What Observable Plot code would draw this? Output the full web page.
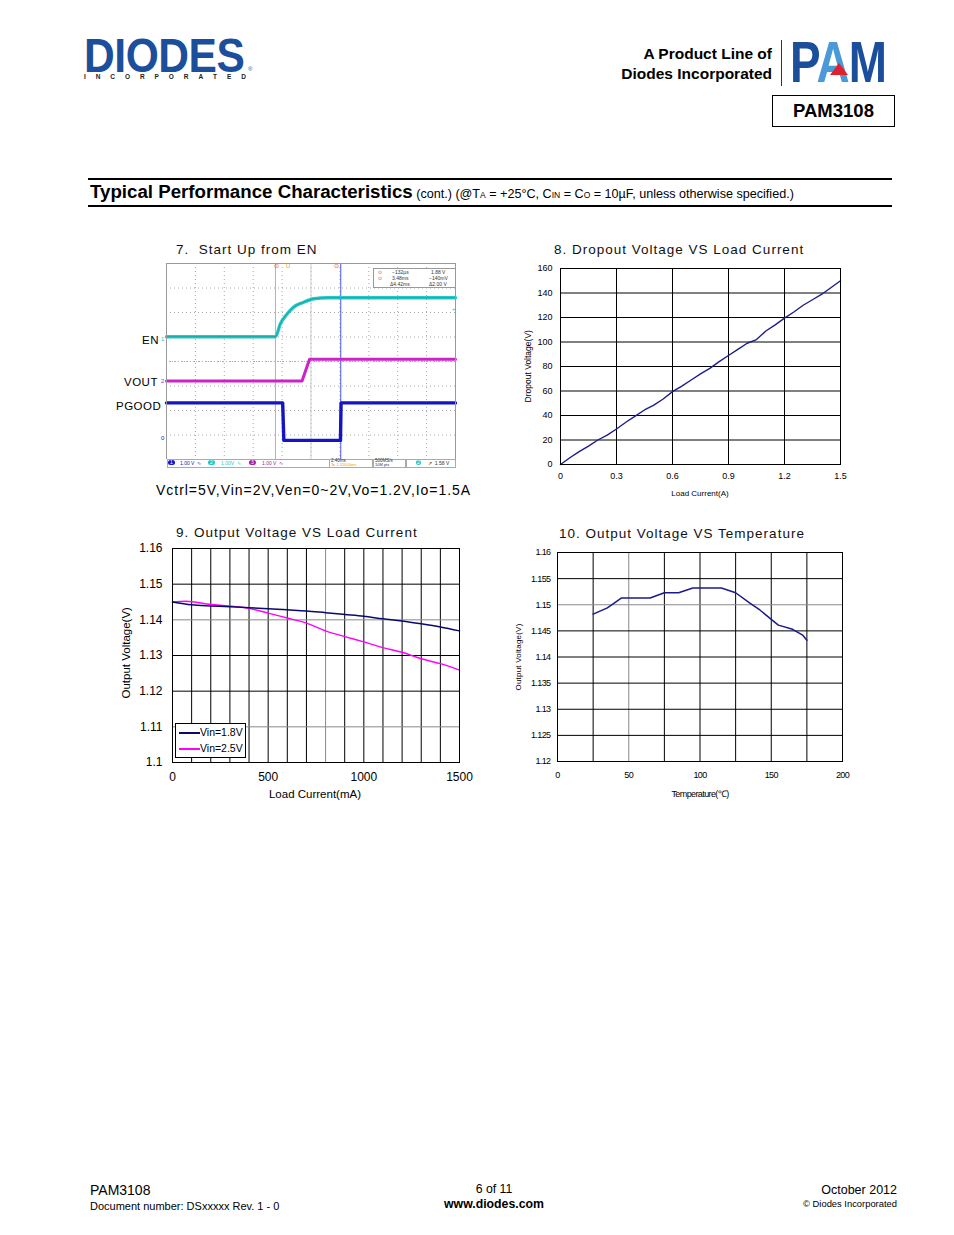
<!DOCTYPE html>
<html><head><meta charset="utf-8">
<script src="https://cdn.jsdelivr.net/npm/d3@7"></script>
<script src="https://cdn.jsdelivr.net/npm/@observablehq/plot@0.6"></script>
<style>
body{margin:0;background:#fff;}
#page{position:relative;width:954px;height:1235px;overflow:hidden;font-family:"Liberation Sans",Arial,sans-serif;color:#000;background:#fff;}
.abs{position:absolute;white-space:nowrap;line-height:1;}
.b{font-weight:bold;}
.ttl{font-size:13.5px;letter-spacing:1px;color:#111;}
.plot{position:absolute;}
.tiny{font-size:5px;line-height:1;position:absolute;white-space:nowrap;}
.lg{z-index:5;}
</style></head><body><div id="page">

<!-- header: DIODES logo -->
<div class="abs b" style="left:84px;top:38.6px;height:34px;font-size:48px;line-height:34px;color:#1b4f9c;transform:scaleX(0.886);transform-origin:0 0;letter-spacing:-0.5px;">DIODES</div>
<div class="abs b" style="left:84px;top:74px;width:162px;display:flex;justify-content:space-between;font-size:6.5px;color:#222;"><span>I</span><span>N</span><span>C</span><span>O</span><span>R</span><span>P</span><span>O</span><span>R</span><span>A</span><span>T</span><span>E</span><span>D</span></div>
<div class="abs" style="left:248px;top:66px;font-size:6px;color:#1b4f9c;">®</div>

<div class="abs b" style="right:182px;top:46px;font-size:15.5px;text-align:right;">A Product Line of</div>
<div class="abs b" style="right:182px;top:66px;font-size:15.5px;text-align:right;">Diodes Incorporated</div>
<div class="abs" style="left:781px;top:40px;width:1px;height:46px;background:#333;"></div>
<div class="abs b" style="left:790px;top:34px;font-size:57px;line-height:57px;transform:scaleX(0.805);transform-origin:0 0;letter-spacing:-1px;"><span style="color:#1b4f9c">P</span><span style="color:#4a9ad8">A</span><span style="color:#1b4f9c">M</span></div>
<div class="abs" style="left:830px;top:63px;width:0;height:0;border-left:9px solid transparent;border-right:9px solid transparent;border-bottom:12px solid #e0202a;"></div>
<div class="abs b" style="left:772px;top:95px;width:121px;height:30px;border:1.5px solid #000;font-size:18.5px;line-height:30px;text-align:center;">PAM3108</div>

<!-- section header -->
<div class="abs" style="left:88px;top:178px;width:804px;height:2px;background:#000;"></div>
<div class="abs" style="left:88px;top:205px;width:804px;height:2px;background:#000;"></div>
<div class="abs" style="left:90px;top:183px;"><span class="b" style="font-size:18.7px;">Typical Performance Characteristics</span><span style="font-size:12.6px;"> (cont.) (@T<span style="font-size:8.5px">A</span> = +25°C, C<span style="font-size:8.5px">IN</span> = C<span style="font-size:8.5px">O</span> = 10µF, unless otherwise specified.)</span></div>

<!-- chart titles & labels -->
<div class="abs ttl" style="left:176px;top:243px;">7.&nbsp; Start Up from EN</div>
<div class="abs ttl" style="left:554px;top:243px;">8. Dropout Voltage VS Load Current</div>
<div class="abs ttl" style="left:176px;top:526px;">9. Output Voltage VS Load Current</div>
<div class="abs ttl" style="left:559px;top:527px;">10. Output Voltage VS Temperature</div>

<!-- scope labels -->
<div class="abs" style="left:142px;top:335px;font-size:11.5px;letter-spacing:0.5px;">EN</div>
<div class="abs" style="left:124px;top:377px;font-size:11.5px;letter-spacing:0.5px;">VOUT</div>
<div class="abs" style="left:116px;top:401px;font-size:11.5px;letter-spacing:0.5px;">PGOOD</div>
<div class="abs" style="left:156px;top:483px;font-size:14px;letter-spacing:0.97px;">Vctrl=5V,Vin=2V,Ven=0~2V,Vo=1.2V,Io=1.5A</div>

<!-- chart 8 labels -->
<div class="abs" style="left:640px;top:490px;width:120px;text-align:center;font-size:8px;">Load Current(A)</div>
<div class="abs" style="left:468px;top:362px;width:120px;text-align:center;font-size:8.5px;transform:rotate(-90deg);">Dropout Voltage(V)</div>

<!-- chart 9 labels -->
<div class="abs" style="left:235px;top:789px;width:160px;text-align:center;font-size:11.5px;">Load Current(mA)</div>
<div class="abs" style="left:47px;top:647px;width:160px;text-align:center;font-size:11.5px;transform:rotate(-90deg);">Output Voltage(V)</div>

<!-- chart 10 labels -->
<div class="abs" style="left:640px;top:790px;width:120px;text-align:center;font-size:9px;letter-spacing:-0.6px;">Temperature(℃)</div>
<div class="abs" style="left:459px;top:653px;width:120px;text-align:center;font-size:8px;transform:rotate(-90deg);letter-spacing:0.2px;">Output Voltage(V)</div>

<!-- footer -->
<div class="abs" style="left:90px;top:1183px;font-size:14px;">PAM3108</div>
<div class="abs" style="left:90px;top:1201px;font-size:11px;">Document number: DSxxxxx Rev. 1 - 0</div>
<div class="abs" style="left:394px;top:1183px;width:200px;text-align:center;font-size:12.3px;">6 of 11</div>
<div class="abs b" style="left:394px;top:1198px;width:200px;text-align:center;font-size:12.3px;">www.diodes.com</div>
<div class="abs" style="right:57px;top:1184px;font-size:12.5px;">October 2012</div>
<div class="abs" style="right:57px;top:1199px;font-size:9.4px;">© Diodes Incorporated</div>

<div id="c7" class="plot" style="left:160px;top:258px;"></div>
<div id="c8" class="plot" style="left:505px;top:258px;"></div>
<div id="c9" class="plot" style="left:110px;top:540px;"></div>
<div id="c10" class="plot" style="left:505px;top:545px;"></div>

<!-- chart 9 legend (drawn above the plot) -->
<div class="abs lg" style="left:175px;top:723px;width:69px;height:33px;border:1px solid #000;background:#fff;"></div>
<div class="abs lg" style="left:179px;top:732px;width:21px;height:2px;background:#0a0a6e;"></div>
<div class="abs lg" style="left:200px;top:727px;font-size:10.5px;">Vin=1.8V</div>
<div class="abs lg" style="left:179px;top:748px;width:21px;height:2px;background:#ff00ff;"></div>
<div class="abs lg" style="left:200px;top:743px;font-size:10.5px;">Vin=2.5V</div>

<!-- scope overlays -->
<div class="abs" style="left:373px;top:268px;width:81px;height:18px;border:1px solid #999;background:#fff;"></div>
<div class="tiny" style="left:378px;top:270px;color:#e05020;">⊙</div>
<div class="tiny" style="left:378px;top:276px;color:#e05020;">⊙</div>
<div class="tiny" style="left:392px;top:270px;color:#333;">−132µs</div>
<div class="tiny" style="left:392px;top:276px;color:#333;">3.48ms</div>
<div class="tiny" style="left:390px;top:282px;color:#333;">Δ4.42ms</div>
<div class="tiny" style="left:431px;top:270px;color:#333;">1.88 V</div>
<div class="tiny" style="left:429px;top:276px;color:#333;">−140mV</div>
<div class="tiny" style="left:429px;top:282px;color:#333;">Δ2.00 V</div>
<div class="tiny" style="left:274px;top:263px;color:#e05020;font-size:6px;">⊙</div>
<div class="tiny" style="left:286px;top:263px;color:#f0a000;font-size:6px;">U</div>
<div class="tiny" style="left:334px;top:263px;color:#e05020;font-size:6px;">⊙</div>
<div class="tiny" style="left:161px;top:336px;color:#22c7c7;font-size:6px;">1</div>
<div class="tiny" style="left:161px;top:378px;color:#c020c0;font-size:6px;">2</div>
<div class="tiny" style="left:161px;top:435px;color:#1515c8;font-size:6px;">0</div>
<div class="tiny" style="left:452px;top:306px;color:#22c7c7;font-size:6px;">+</div>
<div class="abs" style="left:166px;top:459px;width:289px;height:8px;background:#fff;"></div>
<div class="abs" style="left:167px;top:459px;width:161px;height:7px;border:1px solid #aaa;"></div>
<div class="tiny" style="left:168px;top:460px;color:#fff;background:#1515c8;border-radius:3px;padding:0 2px;">1</div>
<div class="tiny" style="left:180px;top:461px;color:#1515c8;">1.00 V &nbsp;∿</div>
<div class="tiny" style="left:208px;top:460px;color:#fff;background:#22c7c7;border-radius:3px;padding:0 2px;">2</div>
<div class="tiny" style="left:221px;top:461px;color:#22c7c7;">1.00V &nbsp;∿</div>
<div class="tiny" style="left:249px;top:460px;color:#fff;background:#a020a0;border-radius:3px;padding:0 2px;">3</div>
<div class="tiny" style="left:262px;top:461px;color:#a020a0;">1.00 V &nbsp;∿</div>
<div class="abs" style="left:329px;top:459px;width:42px;height:7px;border:1px solid #aaa;"></div>
<div class="tiny" style="left:331px;top:459px;color:#333;font-size:4.5px;">2.40ms</div>
<div class="tiny" style="left:331px;top:463px;color:#f0a000;font-size:4px;">T▸ 1.52000ms</div>
<div class="abs" style="left:373px;top:459px;width:31px;height:7px;border:1px solid #aaa;"></div>
<div class="tiny" style="left:375px;top:459px;color:#333;font-size:4.5px;">500MS/s</div>
<div class="tiny" style="left:375px;top:463px;color:#333;font-size:4px;">10M pts</div>
<div class="abs" style="left:406px;top:459px;width:48px;height:7px;border:1px solid #aaa;"></div>
<div class="tiny" style="left:416px;top:460px;color:#fff;background:#22c7c7;border-radius:3px;padding:0 1px;">2</div>
<div class="tiny" style="left:428px;top:461px;color:#333;">↗ &nbsp;1.58 V</div>

</div>
<script>
// ---------- Fig 7: scope traces (time and level in screen divisions) ----------
const enT   = [0, 3.77, 3.94, 4.18, 4.40, 4.75, 5.10, 5.56, 10];
const enV   = [5.01, 5.01, 5.54, 5.95, 6.22, 6.42, 6.56, 6.60, 6.60];
const voutT = [0, 4.69, 4.95, 10];
const voutV = [3.20, 3.20, 4.09, 4.09];
const pgT   = [0, 4.02, 4.06, 6.02, 6.04, 10];
const pgV   = [2.31, 2.31, 0.78, 0.78, 2.31, 2.31];
const cursorT = [3.77, 6.03];

// ---------- Fig 8: dropout voltage vs load current ----------
const dropI = [0, 0.05, 0.1, 0.15, 0.2, 0.25, 0.3, 0.35, 0.4, 0.45, 0.5, 0.55, 0.6, 0.65, 0.7, 0.75, 0.8, 0.85, 0.9, 0.95, 1.0, 1.05, 1.1, 1.15, 1.2, 1.25, 1.3, 1.35, 1.4, 1.45, 1.5];
const dropV = [0, 5.5, 10.5, 15, 20, 24, 29, 34.5, 39.5, 44.5, 48.5, 53.5, 59.5, 64, 69, 74, 78.5, 84, 89, 94, 99, 102, 109, 114, 119.5, 124.5, 130, 134.5, 139, 144.5, 150];
const xTicks8 = [0, 0.3, 0.6, 0.9, 1.2, 1.5];
const yTicks8 = [0, 20, 40, 60, 80, 100, 120, 140, 160];

// ---------- Fig 9: output voltage vs load current ----------
const load18 = [0, 100, 200, 300, 400, 500, 600, 700, 800, 900, 1000, 1100, 1200, 1300, 1400, 1500];
const vout18 = [1.1450, 1.1442, 1.1439, 1.1437, 1.1434, 1.1431, 1.1428, 1.1425, 1.1420, 1.1415, 1.1410, 1.1403, 1.1397, 1.1389, 1.1380, 1.1369];
const load25 = [0, 70, 200, 300, 400, 500, 600, 700, 800, 900, 1000, 1100, 1200, 1300, 1400, 1500];
const vout25 = [1.1450, 1.1452, 1.1443, 1.1439, 1.1432, 1.1419, 1.1405, 1.1391, 1.1369, 1.1353, 1.1338, 1.1322, 1.1309, 1.1291, 1.1277, 1.1259];
const xTicks9 = [0, 500, 1000, 1500];
const xGrid9  = [100, 200, 300, 400, 500, 600, 700, 800, 900, 1000, 1100, 1200, 1300, 1400];
const yTicks9 = [1.1, 1.11, 1.12, 1.13, 1.14, 1.15, 1.16];

// ---------- Fig 10: output voltage vs temperature ----------
const tempC  = [25, 35, 45, 55, 65, 75, 85, 95, 105, 115, 125, 135, 142, 150, 155, 165, 172, 175];
const voutT10 = [1.1482, 1.1494, 1.1513, 1.1513, 1.1513, 1.1523, 1.1523, 1.1532, 1.1532, 1.1532, 1.1523, 1.1503, 1.1490, 1.1472, 1.1461, 1.1453, 1.1442, 1.1432];
const xTicks10 = [0, 50, 100, 150, 200];
const xGrid10  = [25, 50, 75, 100, 125, 150, 175];
const yTicks10 = [1.12, 1.125, 1.13, 1.135, 1.14, 1.145, 1.15, 1.155, 1.16];

const FONT = "'Liberation Sans', Arial, sans-serif";
const zipXY = (xs, ys) => xs.map((x, i) => ({x, y: ys[i]}));

// Fig 7
const c7 = Plot.plot({
  width: 300, height: 206, marginLeft: 6, marginTop: 5, marginRight: 5, marginBottom: 5,
  style: {background: "transparent", overflow: "visible"},
  x: {domain: [0, 10], axis: null},
  y: {domain: [0, 8], axis: null},
  marks: [
    Plot.gridX({ticks: 10, stroke: "#a8a8a8", strokeOpacity: 1, strokeDasharray: "1,3"}),
    Plot.gridY({ticks: 8, stroke: "#a8a8a8", strokeOpacity: 1, strokeDasharray: "1,3"}),
    Plot.ruleX([5], {stroke: "#cfcfcf"}),
    Plot.ruleY([4], {stroke: "#b0b0b0", strokeDasharray: "1,2"}),
    Plot.ruleX(cursorT, {stroke: (d, i) => i === 0 ? "#a9a9f0" : "#4a55e0", strokeWidth: 1}),
    Plot.line(zipXY(enT, enV), {x: "x", y: "y", stroke: "#27c9c9", strokeWidth: 3.4, curve: "monotone-x"}),
    Plot.line(zipXY(enT, enV), {x: "x", y: "y", stroke: "#0c6f6f", strokeWidth: 0.8, strokeOpacity: 0.55, curve: "monotone-x"}),
    Plot.line(zipXY(voutT, voutV), {x: "x", y: "y", stroke: "#cc22cc", strokeWidth: 3}),
    Plot.line(zipXY(pgT, pgV), {x: "x", y: "y", stroke: "#1414c4", strokeWidth: 3.4}),
    Plot.frame({stroke: "#9a9a9a"})
  ]
});
document.getElementById("c7").append(c7);

// Fig 8
const c8 = Plot.plot({
  width: 350, height: 231, marginLeft: 55, marginTop: 10, marginRight: 15, marginBottom: 25,
  style: {background: "transparent", fontFamily: FONT, fontSize: "9px", color: "#000", overflow: "visible"},
  x: {domain: [0, 1.5], ticks: xTicks8, tickSize: 0, tickPadding: 8, label: null, tickFormat: d => String(d)},
  y: {domain: [0, 160], ticks: yTicks8, tickSize: 0, tickPadding: 8, label: null, tickFormat: d => String(d)},
  marks: [
    Plot.ruleX(xTicks8, {stroke: "#000", strokeWidth: 1}),
    Plot.ruleY(yTicks8, {stroke: "#000", strokeWidth: 1}),
    Plot.line(zipXY(dropI, dropV), {x: "x", y: "y", stroke: "#1c1c8c", strokeWidth: 1.4}),
    Plot.frame({stroke: "#000"})
  ]
});
document.getElementById("c8").append(c8);

// Fig 9
const c9 = Plot.plot({
  width: 369, height: 242, marginLeft: 62, marginTop: 8, marginRight: 20, marginBottom: 20,
  style: {background: "transparent", fontFamily: FONT, fontSize: "12px", color: "#000", overflow: "visible"},
  x: {domain: [0, 1500], ticks: xTicks9, tickSize: 0, tickPadding: 10, label: null, tickFormat: d => String(d)},
  y: {domain: [1.1, 1.16], ticks: yTicks9, tickSize: 0, tickPadding: 10, label: null, tickFormat: d => String(d)},
  marks: [
    Plot.ruleX(xGrid9, {filter: d => d !== 800, stroke: "#000"}),
    Plot.ruleX(xGrid9, {filter: d => d === 800, stroke: "#8a8a8a"}),
    Plot.ruleY(yTicks9, {filter: d => d !== 1.14 && d !== 1.11, stroke: "#000"}),
    Plot.ruleY(yTicks9, {filter: d => d === 1.14 || d === 1.11, stroke: "#8a8a8a"}),
    Plot.line(zipXY(load25, vout25), {x: "x", y: "y", stroke: "#ff00ff", strokeWidth: 1.4, curve: "monotone-x"}),
    Plot.line(zipXY(load18, vout18), {x: "x", y: "y", stroke: "#0a0a6e", strokeWidth: 1.5, curve: "monotone-x"}),
    Plot.frame({stroke: "#000"})
  ]
});
document.getElementById("c9").append(c9);

// Fig 10
const c10 = Plot.plot({
  width: 352, height: 238, marginLeft: 52, marginTop: 7, marginRight: 15, marginBottom: 22,
  style: {background: "transparent", fontFamily: FONT, fontSize: "9px", color: "#000", overflow: "visible", letterSpacing: "-0.6px"},
  x: {domain: [0, 200], ticks: xTicks10, tickSize: 0, tickPadding: 10, label: null, tickFormat: d => String(d)},
  y: {domain: [1.12, 1.16], ticks: yTicks10, tickSize: 0, tickPadding: 7, label: null, tickFormat: d => String(d)},
  marks: [
    Plot.ruleX(xGrid10, {filter: d => d !== 50, stroke: "#000"}),
    Plot.ruleX(xGrid10, {filter: d => d === 50, stroke: "#8a8a8a"}),
    Plot.ruleY(yTicks10, {filter: d => d !== 1.15, stroke: "#000"}),
    Plot.ruleY(yTicks10, {filter: d => d === 1.15, stroke: "#8a8a8a"}),
    Plot.line(zipXY(tempC, voutT10), {x: "x", y: "y", stroke: "#1a1a8a", strokeWidth: 1.5}),
    Plot.frame({stroke: "#000"})
  ]
});
document.getElementById("c10").append(c10);
</script>
</body></html>
